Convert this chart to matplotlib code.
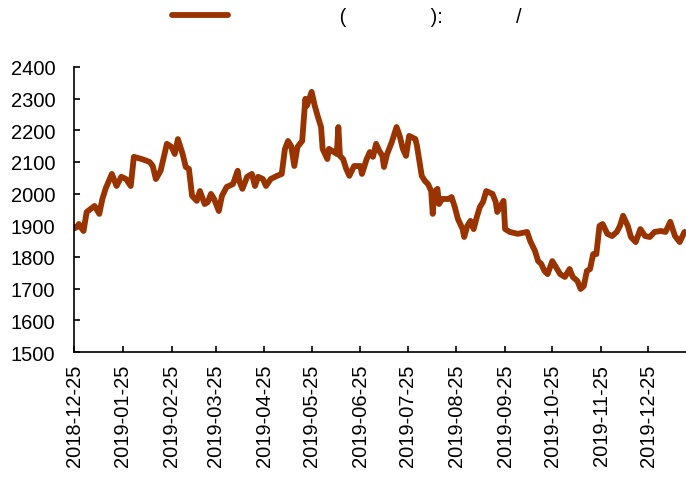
import matplotlib
matplotlib.use("Agg")
import matplotlib.pyplot as plt
import matplotlib.dates as mdates
import pandas as pd

plt.rcParams['font.family'] = ['Liberation Sans', 'DejaVu Sans']

# price series, values
dates = [
    "2018-12-25", "2018-12-27", "2018-12-28", "2018-12-31", "2019-01-02", "2019-01-07",
    "2019-01-10", "2019-01-12", "2019-01-14", "2019-01-18", "2019-01-21", "2019-01-24",
    "2019-01-27", "2019-01-30", "2019-02-01", "2019-02-06", "2019-02-11", "2019-02-13",
    "2019-02-15", "2019-02-18", "2019-02-22", "2019-02-25", "2019-02-27", "2019-03-01",
    "2019-03-04", "2019-03-06", "2019-03-08", "2019-03-10", "2019-03-13", "2019-03-15",
    "2019-03-18", "2019-03-20", "2019-03-22", "2019-03-24", "2019-03-27", "2019-03-29",
    "2019-04-01", "2019-04-05", "2019-04-08", "2019-04-09", "2019-04-11", "2019-04-14",
    "2019-04-17", "2019-04-19", "2019-04-21", "2019-04-24", "2019-04-26", "2019-04-29",
    "2019-05-03", "2019-05-06", "2019-05-08", "2019-05-10", "2019-05-12", "2019-05-14",
    "2019-05-16", "2019-05-19", "2019-05-21", "2019-05-22", "2019-05-25", "2019-05-27",
    "2019-05-29", "2019-05-31", "2019-06-01", "2019-06-04", "2019-06-05", "2019-06-07",
    "2019-06-10", "2019-06-11", "2019-06-12", "2019-06-14", "2019-06-16", "2019-06-18",
    "2019-06-21", "2019-06-25", "2019-06-26", "2019-06-29", "2019-07-01", "2019-07-03",
    "2019-07-05", "2019-07-07", "2019-07-09", "2019-07-10", "2019-07-12", "2019-07-15",
    "2019-07-18", "2019-07-20", "2019-07-22", "2019-07-24", "2019-07-26", "2019-07-30",
    "2019-07-31", "2019-08-03", "2019-08-05", "2019-08-07", "2019-08-09", "2019-08-10",
    "2019-08-11", "2019-08-13", "2019-08-14", "2019-08-16", "2019-08-20", "2019-08-22",
    "2019-08-24", "2019-08-26", "2019-08-29", "2019-08-30", "2019-09-01", "2019-09-03",
    "2019-09-05", "2019-09-07", "2019-09-09", "2019-09-11", "2019-09-13", "2019-09-17",
    "2019-09-19", "2019-09-20", "2019-09-24", "2019-09-25", "2019-09-28", "2019-10-03",
    "2019-10-09", "2019-10-11", "2019-10-14", "2019-10-16", "2019-10-18", "2019-10-20",
    "2019-10-22", "2019-10-25", "2019-10-28", "2019-10-30", "2019-11-02", "2019-11-05",
    "2019-11-07", "2019-11-10", "2019-11-12", "2019-11-14", "2019-11-16", "2019-11-18",
    "2019-11-20", "2019-11-22", "2019-11-24", "2019-11-26", "2019-11-29", "2019-12-02",
    "2019-12-05", "2019-12-07", "2019-12-09", "2019-12-12", "2019-12-14", "2019-12-17",
    "2019-12-20", "2019-12-23", "2019-12-26", "2019-12-29", "2020-01-02", "2020-01-05",
    "2020-01-08", "2020-01-11", "2020-01-14", "2020-01-17",
]
prices = [
    1890, 1895, 1904, 1882, 1942, 1961,
    1936, 1983, 2015, 2062, 2024, 2053,
    2046, 2024, 2116, 2109, 2100, 2087,
    2046, 2072, 2157, 2147, 2125, 2172,
    2125, 2084, 2078, 1993, 1977, 2008,
    1967, 1973, 1999, 1983, 1945, 1993,
    2021, 2030, 2072, 2040, 2015, 2053,
    2062, 2024, 2053, 2046, 2024, 2046,
    2056, 2062, 2140, 2166, 2150, 2087,
    2147, 2166, 2299, 2277, 2321, 2277,
    2242, 2210, 2141, 2109, 2141, 2135,
    2125, 2210, 2119, 2109, 2078, 2056,
    2087, 2087, 2062, 2109, 2131, 2116,
    2157, 2135, 2119, 2084, 2125, 2163,
    2210, 2182, 2141, 2119, 2182, 2172,
    2150, 2056, 2040, 2030, 2008, 1936,
    2005, 2015, 1967, 1983, 1983, 1989,
    1958, 1920, 1888, 1863, 1898, 1914,
    1888, 1926, 1958, 1974, 2008, 1999,
    1974, 1942, 1977, 1888, 1879, 1873,
    1879, 1850, 1819, 1787, 1778, 1756,
    1746, 1787, 1762, 1746, 1737, 1762,
    1737, 1724, 1699, 1708, 1756, 1762,
    1809, 1809, 1898, 1904, 1873, 1866,
    1879, 1898, 1930, 1898, 1863, 1847,
    1888, 1866, 1863, 1879, 1882, 1879,
    1911, 1866, 1847, 1879,
]
# legend text (the CJK glyphs are blank in the reference)
series_label = " " * 17 + "(" + " " * 15 + "):" + " " * 13 + "/" + " " * 4

x = pd.to_datetime(dates)

fig = plt.figure(figsize=(6.86, 4.81), dpi=100)
ax = fig.add_axes([0.108, 0.266, 0.892, 0.593])

line, = ax.plot(x, prices, color="#993300", linewidth=4.2,
                solid_joinstyle="round", solid_capstyle="round")

ax.set_ylim(1500, 2400)
ax.set_yticks(range(1500, 2401, 100))
ax.set_xlim(pd.Timestamp("2018-12-25"), pd.Timestamp("2020-01-18"))
ax.xaxis.set_major_locator(mdates.MonthLocator(bymonthday=25))
ax.xaxis.set_major_formatter(mdates.DateFormatter("%Y-%m-%d"))

for s in ["top", "right"]:
    ax.spines[s].set_visible(False)
for s in ["left", "bottom"]:
    ax.spines[s].set_linewidth(1.2)

ax.tick_params(axis="y", direction="in", length=4, width=1.2, labelsize=14.5, pad=13.5)
ax.tick_params(axis="x", direction="in", length=4, width=1.2, labelsize=14.5, pad=8.5,
               labelrotation=90)

fig.legend([line], [series_label], loc="center left", bbox_to_anchor=(0.2507, 0.9626),
           frameon=False, fontsize=14.5, borderpad=0, borderaxespad=0,
           handlelength=2.79, handletextpad=0.8)

fig.savefig("out.png", dpi=100)
